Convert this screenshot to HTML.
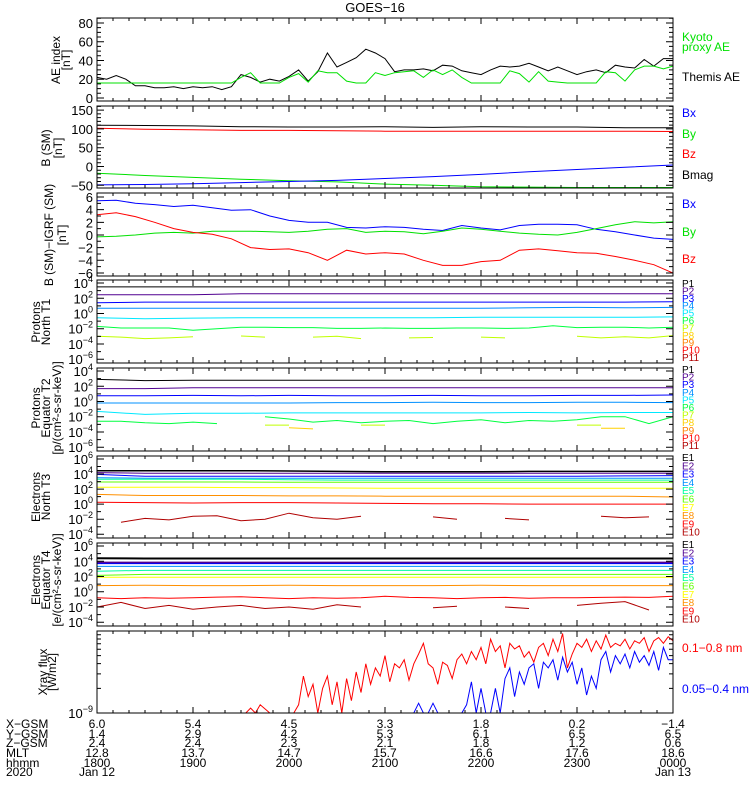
<!DOCTYPE html>
<html><head><meta charset="utf-8"><title>GOES-16</title>
<style>
html,body{margin:0;padding:0;background:#fff;}
svg{display:block;font-family:"Liberation Sans",sans-serif;}
</style></head>
<body>
<svg id="chart" width="750" height="800" viewBox="0 0 750 800">
<rect x="0" y="0" width="750" height="800" fill="#fff"/>
<text x="375" y="12" text-anchor="middle" font-size="13">GOES−16</text>
<defs id="defs"></defs>
</svg>
<script>
// ===== DATA =====
// time axis: minutes after 18:00 UT (0..360)
const aeThemis = [22,20,24,20,13,13,11,11,12,10,12,11,12,9,12,25,22,17,20,18,23,30,18,28,48,33,38,43,52,48,42,28,30,30,31,29,35,34,29,27,25,30,34,33,34,37,33,29,33,29,25,28,30,27,35,33,32,41,34,42,42];
const aeKyoto = [16,16,16,16,16,16,16,16,16,16,16,16,16,16,16,22,27,16,16,16,22,26,17,29,27,27,18,16,16,27,24,27,28,29,22,30,25,30,22,16,16,16,16,29,26,17,28,18,17,16,16,16,16,28,27,18,30,34,34,31,34];
const bX = [-49,-48,-46,-43,-40,-37,-32,-27,-21,-14,-8,-2,4];
const bY = [-18,-24,-29,-34,-38,-41,-47,-50,-54,-55,-56,-56,-56];
const bZ = [102,99,98,96,96,95,94,94,94,94,94,94,93];
const bMag = [110,109,108,106,105,105,106,104,106,105,105,103,103];
const dbX = [5.4,5.5,5.0,4.8,4.5,4.7,4.3,3.9,4.0,3.0,2.3,2.0,2.0,1.2,1.1,1.3,1.2,0.9,0.7,1.5,1.1,0.8,1.5,1.7,1.7,1.6,0.9,0.5,0.0,-0.5,-0.7];
const dbY = [-0.3,-0.2,0.0,0.3,0.4,0.3,0.6,0.6,0.6,0.5,0.4,0.6,0.9,1.0,0.4,0.6,0.5,0.2,0.6,1.1,0.9,0.6,0.3,0.1,0.0,0.4,1.0,1.6,2.1,1.9,2.1];
const dbZ = [3.2,3.5,2.9,2.0,1.0,0.4,0.1,-0.6,-2.0,-2.3,-2.2,-2.8,-4.0,-2.4,-3.0,-2.8,-3.0,-4.0,-4.8,-4.8,-4.2,-4.0,-2.4,-2.2,-2.5,-2.8,-2.9,-3.4,-4.0,-4.7,-6.0];
// log10 proton flux, north T1
const pN1 = [3.5,3.5,3.5,3.5,3.5,3.5,3.5,3.5,3.5,3.5,3.5,3.5,3.5];
const pN2 = [2.45,2.45,2.45,2.6,2.6,2.6,2.6,2.6,2.6,2.6,2.6,2.6,2.6];
const pN3 = [1.4,1.5,1.5,1.5,1.5,1.5,1.5,1.5,1.5,1.5,1.5,1.5,1.55];
const pN4 = [0.7,0.7,0.7,0.7,0.7,0.7,0.7,0.7,0.7,0.75,0.8,0.75,0.8];
const pN5 = [-0.55,-0.7,-0.6,-0.55,-0.55,-0.55,-0.55,-0.55,-0.5,-0.5,-0.5,-0.5,-0.45];
const pN6 = [-1.7,-1.9,-1.9,-1.9,-2.2,-2.0,-1.8,-1.8,-1.85,-1.85,-1.95,-1.95,-1.9,-1.95,-1.95,-1.9,-1.9,-1.95,-1.9,-1.6,-1.85,-1.8,-1.8,-1.9,-1.8];
const pN7 = [-3.0,-3.1,-3.3,-3.2,-3.05,null,-2.95,-3.1,null,-3.1,-3.0,-3.3,null,-3.2,-3.15,null,-3.1,-3.2,null,null,-3.0,-3.2,-3.05,-3.2,-2.9];
// log10 proton flux, equator T2
const pE1 = [2.9,2.75,2.8,2.8,2.8,2.8,2.8,2.8,2.8,2.8,2.8,2.8,2.8];
const pE2 = [1.7,1.7,1.8,1.8,1.8,1.8,1.8,1.8,1.8,1.8,1.8,1.8,1.8];
const pE3 = [0.75,0.75,0.8,0.75,0.8,0.75,0.75,0.8,0.75,0.75,0.8,0.8,0.85];
const pE4 = [-0.2,-0.2,-0.2,-0.2,-0.2,-0.15,-0.15,-0.1,-0.15,-0.15,-0.1,-0.1,-0.15];
const pE5 = [-1.3,-1.7,-1.55,-1.55,-1.5,-1.5,-1.5,-1.5,-1.5,-1.45,-1.5,-1.45,-1.45];
const pE6 = [-2.6,-2.6,-2.8,-2.9,-2.7,-2.9,null,-2.0,-2.3,-2.7,-2.5,-2.8,-2.6,-2.5,-2.9,-2.6,-2.4,-2.8,-2.5,-2.6,-2.4,-2.0,-2.0,-2.9,-2.0];
const pE7 = [null,null,null,null,null,null,null,-3.1,-3.1,null,null,-3.1,-3.1,null,null,null,null,null,null,null,-3.1,-3.1,null,null,null];
const pE8 = [null,null,null,null,null,null,null,null,-3.45,-3.6,null,null,null,null,null,null,null,null,null,null,null,-3.5,-3.5,null,null];
// log10 electron flux, north T3
const eN1 = [4.45,4.45,4.45,4.45,4.4,4.35,4.3,4.3,4.3,4.35,4.35,4.35,4.35];
const eN2 = [4.2,4.1,4.1,4.1,4.1,4.1,4.1,4.1,4.1,4.1,4.1,4.1,4.1];
const eN3 = [3.95,3.7,3.7,3.7,3.7,3.7,3.7,3.7,3.7,3.7,3.7,3.75,3.8];
const eN4 = [3.5,3.45,3.45,3.45,3.45,3.45,3.45,3.45,3.45,3.45,3.45,3.45,3.45];
const eN5 = [3.3,3.3,3.3,3.3,3.25,3.2,3.2,3.2,3.2,3.2,3.2,3.2,3.2];
const eN6 = [2.95,2.95,2.95,2.95,2.9,2.9,2.9,2.9,2.9,2.9,2.9,2.9,2.9];
const eN7 = [2.25,2.25,2.25,2.2,2.2,2.15,2.1,2.1,2.1,2.1,2.1,2.1,2.1];
const eN8 = [1.3,1.15,1.15,1.15,1.1,1.1,1.05,1.05,1.05,1.05,1.05,1.05,0.95];
const eN9 = [0.25,0.2,0.15,0.2,0.2,0.15,0.1,0.05,0.05,0.0,0.0,0.0,0.0];
const eN10 = [null,-2.4,-1.9,-2.1,-1.6,-1.55,-2.2,-2.0,-1.2,-1.8,-2.0,-1.6,null,null,-1.7,-2.0,null,-1.9,-2.1,null,null,-1.6,-1.8,-1.7,null];
// log10 electron flux, equator T4
const eE1 = [4.4,4.36,4.36,4.36,4.36,4.36,4.36,4.36,4.36,4.36,4.36,4.36,4.36];
const eE2 = [3.83,3.83,3.83,3.83,3.83,3.83,3.83,3.83,3.83,3.83,3.83,3.83,3.83];
const eE3 = [3.69,3.69,3.69,3.69,3.69,3.69,3.69,3.69,3.69,3.69,3.69,3.69,3.69];
const eE4 = [3.33,3.33,3.33,3.33,3.33,3.33,3.33,3.33,3.33,3.33,3.33,3.33,3.33];
const eE5 = [2.7,2.8,2.8,2.8,2.8,2.8,2.8,2.8,2.8,2.8,2.8,2.8,2.8];
const eE6 = [2.15,2.27,2.27,2.27,2.27,2.27,2.27,2.27,2.27,2.27,2.27,2.27,2.27];
const eE7 = [1.91,1.91,1.91,1.91,1.91,1.91,1.91,1.91,1.91,1.91,1.91,1.91,1.91];
const eE8 = [0.8,0.85,0.8,0.8,0.85,0.8,0.8,0.8,0.85,0.8,0.8,0.8,0.8];
const eE9 = [-0.8,-0.9,-0.8,-0.85,-0.8,-0.7,-0.65,-0.8,-0.9,-0.8,-0.85,-0.8,-0.6,-0.75,-0.8,-0.9,-0.8,-0.75,-0.85,-0.8,-0.8,-0.75,-0.7,-0.75,-0.6];
const eE10 = [-2.0,-1.4,-2.2,-1.8,-2.3,-2.0,-1.8,-2.2,-2.0,-2.3,-1.7,-2.0,null,null,-2.1,-1.9,null,-2.0,-2.2,null,-1.8,-1.5,-1.3,-2.4,null];
// log10 X-ray flux (W/m2), every 3 min
const xrayLong = [-9,-9,-9,-9,-9,-9,-9,-9,-9,-9,-9,-9,-9,-9,-9,-9,-9,-9,-9,-9,-9,-9,-9,-9,-9,-9,-9,-9,-9,-9,-9,-9,
 -8.94,-9,-8.9,-8.95,-9,-9,-9,-9,-9,-9,-8.9,-8.55,-8.8,-8.65,-9,-8.7,-8.55,-8.9,-8.62,-9,-8.58,-8.85,-8.5,-8.75,-8.4,-8.65,-8.45,-8.55,-8.3,-8.62,-8.4,-8.45,-8.35,-8.6,-8.4,-8.28,-8.15,-8.4,-8.45,-8.65,-8.38,-8.42,-8.58,-8.35,-8.28,-8.4,-8.25,-8.35,-8.2,-8.4,-8.1,-8.25,-8.18,-8.45,-8.15,-8.22,-8.18,-8.32,-8.25,-8.38,-8.2,-8.15,-8.3,-8.1,-8.25,-8.03,-8.45,-8.28,-8.15,-8.2,-8.1,-8.25,-8.12,-8.22,-8.05,-8.2,-8.15,-8.18,-8.1,-8.22,-8.12,-8.15,-8.08,-8.25,-8.12,-8.08,-8.15,-8.07,-8.12];
const xrayShort = [-9,-9,-9,-9,-9,-9,-9,-9,-9,-9,-9,-9,-9,-9,-9,-9,-9,-9,-9,-9,-9,-9,-9,-9,-9,-9,-9,-9,-9,-9,-9,-9,-9,-9,-9,-9,-9,-9,-9,-9,-9,-9,-9,-9,-9,-9,-9,-9,-9,-9,-9,-9,-9,-9,-9,-9,-9,-9,-9,-9,-9,-9,-9,-9,-9,-9,
 -9,-8.88,-9,-9,-8.88,-9,-9,-9,-9,-9,-9,-8.9,-8.62,-9,-8.7,-9,-9,-8.7,-9,-8.58,-8.45,-8.8,-8.5,-8.65,-8.45,-8.4,-8.7,-8.38,-8.45,-8.35,-8.6,-8.32,-8.5,-8.38,-8.65,-8.45,-8.78,-8.55,-8.7,-8.35,-8.25,-8.5,-8.3,-8.4,-8.28,-8.45,-8.25,-8.38,-8.3,-8.42,-8.25,-8.48,-8.2,-8.35,-8.35];
// bottom ephemeris rows
const hourLabels = ["1800","1900","2000","2100","2200","2300","0000"];
const xgsm = ["6.0","5.4","4.5","3.3","1.8","0.2","−1.4"];
const ygsm = ["1.4","2.9","4.2","5.3","6.1","6.5","6.5"];
const zgsm = ["2.4","2.4","2.3","2.1","1.8","1.2","0.6"];
const mlt = ["12.8","13.7","14.7","15.7","16.6","17.6","18.6"];

// ===== GEOMETRY =====
const NS = "http://www.w3.org/2000/svg";
const svg = document.getElementById('chart');
const defs = document.getElementById('defs');
const X0 = 97, X1 = 673, T_END = 360;
function xs(t){ return X0 + t / T_END * (X1 - X0); }
const panels = [
 {key:'ae', top:18, bot:101, min:-3.2, max:85.3},
 {key:'bsm', top:106, bot:188, min:-57.3, max:161},
 {key:'dbsm', top:193, bot:276, min:-6.48, max:6.63},
 {key:'protons-t1', top:280, bot:363, min:-6.5, max:4.4},
 {key:'protons-t2', top:368, bot:451, min:-6.5, max:4.4},
 {key:'electrons-t3', top:456, bot:538, min:-4.5, max:6.4},
 {key:'electrons-t4', top:543, bot:626, min:-4.5, max:6.4},
 {key:'xray', top:631, bot:713, min:-9, max:-8}
];
function ys(p, v){ return p.bot - (v - p.min) / (p.max - p.min) * (p.bot - p.top); }

function add(tag, attrs, parent){
  const el = document.createElementNS(NS, tag);
  for (const k in attrs) el.setAttribute(k, attrs[k]);
  (parent || svg).appendChild(el);
  return el;
}

// clip paths
panels.forEach(p => {
  const cp = add('clipPath', {id:'clip-' + p.key}, defs);
  add('rect', {x:X0, y:p.top, width:X1 - X0, height:p.bot - p.top}, cp);
});

function drawSeries(p, vals, color, name, width){
  const step = T_END / (vals.length - 1);
  let d = '', pen = false;
  vals.forEach((v, i) => {
    if (v === null || v === undefined) { pen = false; return; }
    const x = xs(i * step).toFixed(1), y = ys(p, v).toFixed(1);
    d += (pen ? 'L' : 'M') + x + ' ' + y;
    pen = true;
  });
  const path = add('path', {d:d, fill:'none', stroke:color, 'stroke-width':width || 1, 'clip-path':'url(#clip-' + p.key + ')'});
  
  
}

function drawFrame(p){
  const r = add('rect', {x:X0, y:p.top, width:X1 - X0, height:p.bot - p.top, fill:'none', stroke:'#000', 'stroke-width':1});
  
  
  // x ticks
  for (let t = 0; t <= T_END; t += 10) {
    const len = (t % 60 === 0) ? 6 : 3;
    const x = xs(t);
    const tk = add('path', {d:`M${x} ${p.bot}V${p.bot - len}M${x} ${p.top}V${p.top + len}`, stroke:'#000', 'stroke-width':1});
    
    
  }
}
function yTick(p, v, len){
  const y = ys(p, v);
  const tk = add('path', {d:`M${X0} ${y}H${X0 + len}M${X1} ${y}H${X1 - len}`, stroke:'#000', 'stroke-width':1});
  
  
}
function yLabel(p, v, txt){
  const t = add('text', {x:93, y:ys(p, v) + 5, 'text-anchor':'end', 'font-size':13});
  t.textContent = txt;
  
  
}
function yLogLabel(p, e){
  const t = add('text', {x:93, y:ys(p, e) + 5, 'text-anchor':'end', 'font-size':13});
  
  
  t.appendChild(document.createTextNode('10'));
  const s = add('tspan', {dy:-6, 'font-size':9}, t);
  s.textContent = String(e).replace('-', '−');
  add('tspan', {dy:6, 'font-size':9}, t).textContent = '';
}
function linAxis(p, lo, hi, major, minor){
  for (let v = lo; v <= hi + 1e-9; v += minor) {
    const isMaj = Math.abs(v / major - Math.round(v / major)) < 1e-6;
    yTick(p, v, isMaj ? 7 : 4);
    if (isMaj) yLabel(p, v, String(v).replace('-', '−'));
  }
}
function logAxis(p, lo, hi, minorTicks){
  for (let e = lo; e <= hi; e++) {
    const isMaj = (e - lo) % 2 === 0;
    yTick(p, e, isMaj ? 7 : 4);
    if (isMaj) yLogLabel(p, e);
    if (minorTicks && e < hi) {
      for (let m = 2; m <= 9; m++) yTick(p, e + Math.log10(m), 4);
    }
  }
}
function rotTitle(lines, xs0, cy){
  lines.forEach((ln, i) => {
    const t = add('text', {x:0, y:0, transform:`translate(${xs0[i]},${cy}) rotate(-90)`, 'text-anchor':'middle', 'font-size':12});
    t.textContent = ln;
    
    
  });
}
function legend(txt, y, color, size){
  const t = add('text', {x:682, y:y + 4, 'font-size':size || 11, fill:color});
  t.textContent = txt;
  
  
}

const [pAE, pB, pDB, pT1, pT2, pT3, pT4, pX] = panels;

// ===== SERIES =====
drawSeries(pAE, aeThemis, '#000', 'themis-ae-line');
drawSeries(pAE, aeKyoto, '#00e000', 'kyoto-proxy-ae-line');
drawSeries(pB, bMag, '#000', 'bmag-line');
drawSeries(pB, bZ, '#ff0000', 'bz-line');
drawSeries(pB, bY, '#00e000', 'by-line');
drawSeries(pB, bX, '#0000ff', 'bx-line');
drawSeries(pDB, dbX, '#0000ff', 'dbx-line');
drawSeries(pDB, dbY, '#00e000', 'dby-line');
drawSeries(pDB, dbZ, '#ff0000', 'dbz-line');

const pColors = ['#000000','#500090','#0000ff','#0090ff','#00e8ff','#00ff40','#c0ff00','#ffd000','#ff8000','#ff0000','#b00000'];
const eColors = ['#000000','#500090','#0000ff','#0090ff','#00ffa0','#60ff00','#ffff00','#ff9000','#ff0000','#b00000'];
[pN1,pN2,pN3,pN4,pN5,pN6,pN7].forEach((s, i) => drawSeries(pT1, s, pColors[i], 'protons-t1-p' + (i + 1) + '-line'));
[pE1,pE2,pE3,pE4,pE5,pE6,pE7,pE8].forEach((s, i) => drawSeries(pT2, s, pColors[i], 'protons-t2-p' + (i + 1) + '-line'));
[eN1,eN2,eN3,eN4,eN5,eN6,eN7,eN8,eN9,eN10].forEach((s, i) => drawSeries(pT3, s, eColors[i], 'electrons-t3-e' + (i + 1) + '-line', i === 0 ? 1.5 : 1));
[eE1,eE2,eE3,eE4,eE5,eE6,eE7,eE8,eE9,eE10].forEach((s, i) => drawSeries(pT4, s, eColors[i], 'electrons-t4-e' + (i + 1) + '-line', i < 2 ? 2 : 1));
drawSeries(pX, xrayLong, '#ff0000', 'xray-long-line');
drawSeries(pX, xrayShort, '#0000ff', 'xray-short-line');

// ===== AXES =====
panels.forEach(drawFrame);
linAxis(pAE, 0, 85, 20, 5);
linAxis(pB, -50, 160, 50, 10);
linAxis(pDB, -6, 6, 2, 1);
logAxis(pT1, -6, 4, false);
logAxis(pT2, -6, 4, false);
logAxis(pT3, -4, 6, false);
logAxis(pT4, -4, 6, false);
logAxis(pX, -9, -8, true);

// ===== TITLES =====
rotTitle(['AE index', '[nT]'], [60, 70], 60);
rotTitle(['B (SM)', '[nT]'], [50, 62], 148);
rotTitle(['B (SM)−IGRF (SM)', '[nT]'], [53, 66], 235);
rotTitle(['Protons', 'North T1'], [40, 50], 322);
rotTitle(['Protons', 'Equator T2', '[p/(cm²-s-sr-keV)]'], [40, 50, 61], 408);
rotTitle(['Electrons', 'North T3'], [40, 50], 497);
rotTitle(['Electrons', 'Equator T4', '[e/(cm²-s-sr-keV)]'], [40, 50, 61], 580);
rotTitle(['Xray flux', '[W/m2]'], [47, 56], 672);

// ===== LEGENDS =====
legend('Kyoto', 37, '#00e000', 12);
legend('proxy AE', 47, '#00e000', 12);
legend('Themis AE', 77, '#000', 12);
legend('Bx', 113, '#0000ff', 12);
legend('By', 134, '#00e000', 12);
legend('Bz', 154, '#ff0000', 12);
legend('Bmag', 175, '#000', 12);
legend('Bx', 204, '#0000ff', 12);
legend('By', 232, '#00e000', 12);
legend('Bz', 259, '#ff0000', 12);
for (let i = 0; i < 11; i++) legend('P' + (i + 1), 283 + i * 7.4, pColors[i], 10);
for (let i = 0; i < 11; i++) legend('P' + (i + 1), 369 + i * 7.6, pColors[i], 10);
for (let i = 0; i < 10; i++) legend('E' + (i + 1), 457 + i * 8.3, eColors[i], 10);
for (let i = 0; i < 10; i++) legend('E' + (i + 1), 544 + i * 8.3, eColors[i], 10);
legend('0.1−0.8 nm', 648, '#ff0000', 12);
legend('0.05−0.4 nm', 689, '#0000ff', 12);

// ===== BOTTOM ROWS =====
const rowNames = ['X−GSM','Y−GSM','Z−GSM','MLT','hhmm','2020'];
const rowData = [xgsm, ygsm, zgsm, mlt, hourLabels];
const rowY = [728, 738, 747, 757, 767, 776];
rowNames.forEach((n, r) => {
  const t = add('text', {x:6, y:rowY[r], 'font-size':12});
  t.textContent = n;
  
  
});
rowData.forEach((arr, r) => {
  arr.forEach((v, i) => {
    const t = add('text', {x:xs(i * 60), y:rowY[r], 'font-size':12, 'text-anchor':'middle'});
    t.textContent = v;
    
    
  });
});
const dates = [['Jan 12', 0], ['Jan 13', 360]];
dates.forEach(d => {
  const t = add('text', {x:xs(d[1]), y:rowY[5], 'font-size':12, 'text-anchor':'middle'});
  t.textContent = d[0];
  
  
});
</script>
</body></html>
